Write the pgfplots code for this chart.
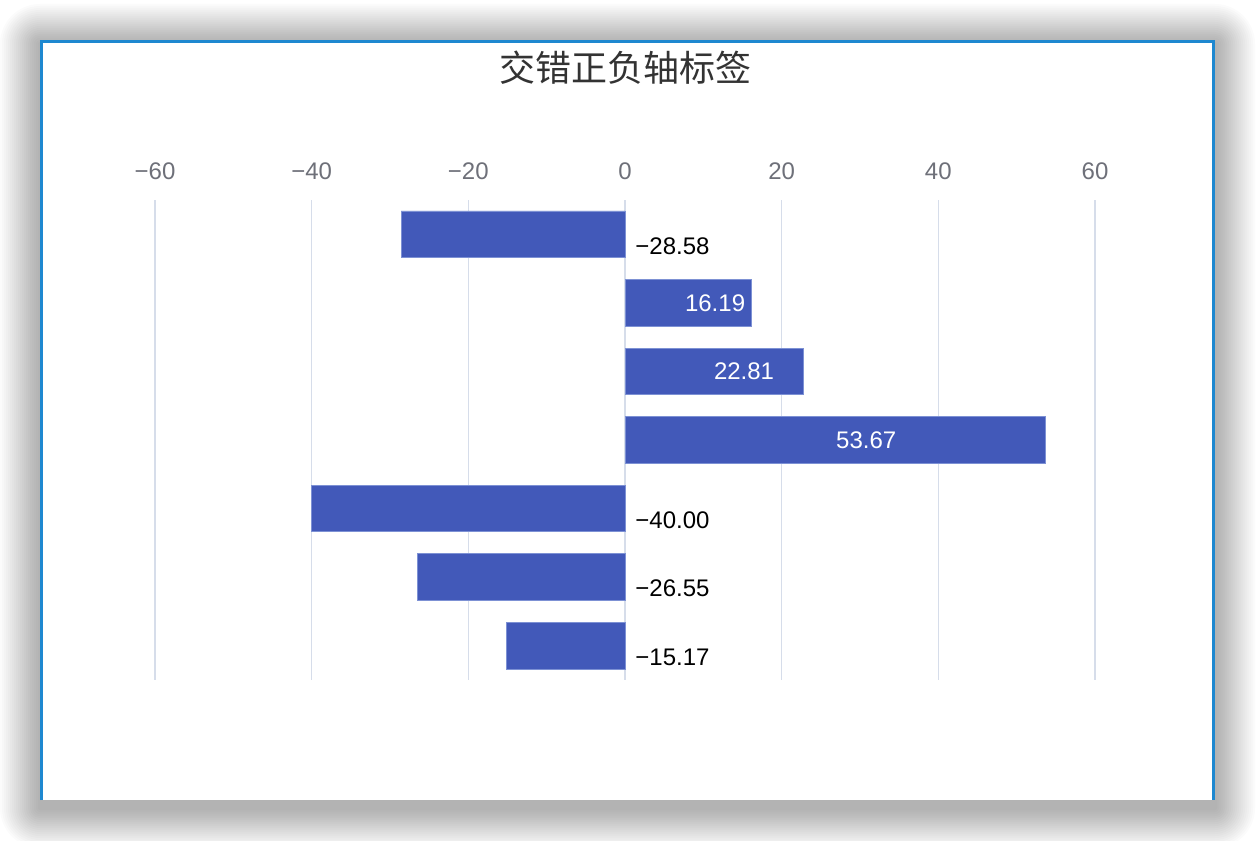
\documentclass[border=0pt]{standalone}
\usepackage{fontspec}
\setmainfont{Liberation Sans}
\newfontfamily\cjk{Noto Sans CJK SC}
\usepackage{pgfplots}
\pgfplotsset{compat=1.18}
\definecolor{barblue}{RGB}{66,89,185}
\definecolor{baredge}{RGB}{125,145,212}
\definecolor{gridc}{RGB}{214,221,234}
\definecolor{tickc}{RGB}{110,112,121}
\definecolor{frameblue}{RGB}{30,136,208}
\definecolor{titlec}{RGB}{51,51,51}
\begin{document}
\begin{tikzpicture}[x=1pt,y=1pt]
\useasboundingbox (0,0) rectangle (628,420);
\fill[white] (0,0) rectangle (628,420);
\foreach \i in {1,...,20} {
  \fill[black,opacity=0.014,rounded corners={\i pt}] ({20-\i},{20-\i-4}) rectangle ({607.5+\i},{400+\i-2});
}
\fill[white] (20,20) rectangle (607.5,400);
\draw[frameblue,line width=1.5pt] (20.75,20) -- (20.75,399.25) -- (606.75,399.25) -- (606.75,20);
\node[font=\cjk\fontsize{18}{20}\selectfont, text=titlec] at (312.5,386) {交错正负轴标签};
\begin{axis}[
  at={(77.5pt,80pt)}, anchor=south west,
  scale only axis, width=470pt, height=240pt,
  xmin=-60, xmax=60, ymin=-0.5, ymax=6.5, y dir=reverse,
  xbar, bar width=0.68, bar shift=0pt,
  xtick={-60,-40,-20,0,20,40,60},
  xticklabels={−60,−40,−20,0,20,40,60},
  xticklabel pos=top,
  ytick=\empty,
  axis line style={draw=none},
  major tick length=0pt,
  xmajorgrids,
  grid style={gridc,line width=0.75pt},
  tick label style={font=\fontsize{12}{14}\selectfont, text=tickc},
  xticklabel style={yshift=6.5pt},
  clip=false,
]
\addplot[fill=barblue, draw=baredge, line width=0.4pt] coordinates {
  (-28.58,0) (16.19,1) (22.81,2) (53.67,3) (-40.00,4) (-26.55,5) (-15.17,6)};
\node[anchor=west, font=\fontsize{12}{14}\selectfont, xshift=1.7pt, yshift=-5.75pt] at (axis cs:0,0) {−28.58};
\node[anchor=west, font=\fontsize{12}{14}\selectfont, xshift=1.7pt, yshift=-5.75pt] at (axis cs:0,4) {−40.00};
\node[anchor=west, font=\fontsize{12}{14}\selectfont, xshift=1.7pt, yshift=-5.75pt] at (axis cs:0,5) {−26.55};
\node[anchor=west, font=\fontsize{12}{14}\selectfont, xshift=1.7pt, yshift=-5.75pt] at (axis cs:0,6) {−15.17};
\node[text=white, font=\fontsize{12}{14}\selectfont] at (axis cs:11.5,1) {16.19};
\node[text=white, font=\fontsize{12}{14}\selectfont] at (axis cs:15.2,2) {22.81};
\node[text=white, font=\fontsize{12}{14}\selectfont] at (axis cs:30.8,3) {53.67};
\end{axis}
\end{tikzpicture}
\end{document}
